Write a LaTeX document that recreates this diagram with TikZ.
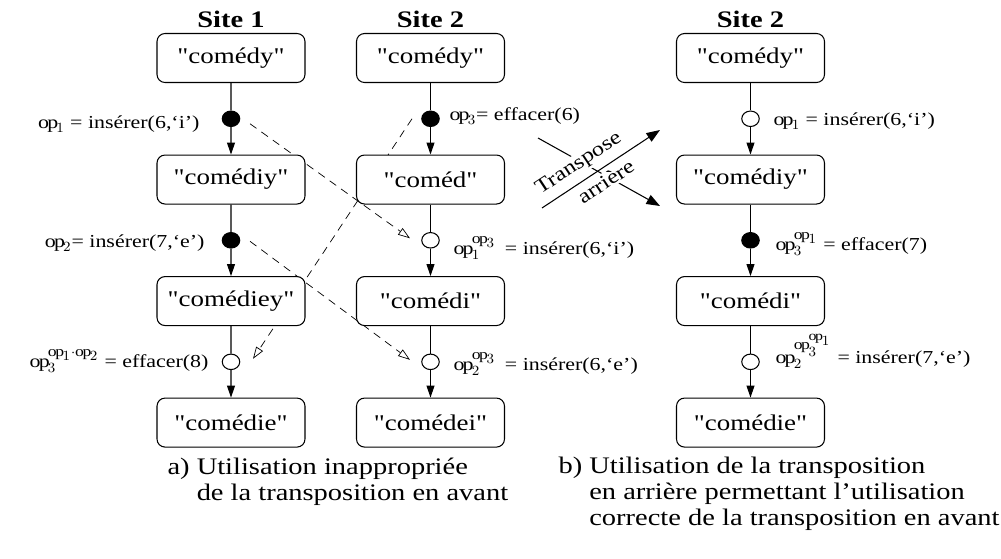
\documentclass[tikz,border=0pt]{standalone}
\usepackage{fontspec}
\setmainfont{Liberation Serif}[FakeStretch=1.2]
\newfontfamily\docfont{Liberation Serif}[FakeStretch=1.2, Ligatures=TeXOff]
\DeclareMathSizes{10.4}{10.4}{8.4}{7.6}
\usetikzlibrary{positioning,shapes.geometric,arrows.meta,backgrounds,calc}
\tikzstyle{doc}=[%
      rectangle, rounded corners=0.16cm, draw=black, fill=white,
      minimum width=2.96cm, minimum height=0.98cm, inner sep=0pt,
      font=\docfont\fontsize{12.8}{15}\selectfont
]
\tikzstyle{gen}=[%
      ellipse, draw=black, fill=black, minimum width=0.35cm, minimum height=0.31cm, inner sep=0pt
]
\tikzstyle{integ}=[gen, fill=white]
\tikzstyle{oplbl}=[inner sep=0pt, font=\fontsize{10.4}{12}\selectfont]
\tikzstyle{trlbl}=[fill=white, inner sep=1pt, sloped, font=\fontsize{11.5}{13}\selectfont]
\tikzstyle{site}=[inner sep=0.1cm, font=\fontsize{13.5}{15}\selectfont\bfseries]
\tikzstyle{capt}=[align=left, inner sep=0pt, font=\fontsize{13.5}{14.8}\selectfont]
\tikzstyle{causal}=[%
      dash pattern=on 0.16cm off 0.12cm, -{Triangle[open,length=0.24cm,width=0.16cm]}
]
\tikzstyle{trans}=[-{Triangle[length=0.27cm,width=0.2cm]}]

\begin{document}
\begin{tikzpicture}[x=0.02cm, y=-0.02cm, line width=0.6pt,
    >={Triangle[length=0.24cm,width=0.16cm]}
  ]
    \useasboundingbox (0,0) rectangle (1001,558);

    % site 1
    \node[doc] (s1a) at (231,58)          {"comédy"};
    \node[doc] (s1b) [below = 1.43cm of s1a] {"comédiy"};
    \node[doc] (s1c) [below = 1.43cm of s1b] {"comédiey"};
    \node[doc] (s1d) [below = 1.43cm of s1c] {"comédie"};
    \node[site] (t1) [above = 0pt of s1a] {Site 1};

    % site 2, case a
    \node[doc] (s2a) at (430.5,58)        {"comédy"};
    \node[doc] (s2b) [below = 1.43cm of s2a] {"coméd"};
    \node[doc] (s2c) [below = 1.43cm of s2b] {"comédi"};
    \node[doc] (s2d) [below = 1.43cm of s2c] {"comédei"};
    \node[site] (t2) [above = 0pt of s2a] {Site 2};

    % site 2, case b
    \node[doc] (s3a) at (750.5,58)        {"comédy"};
    \node[doc] (s3b) [below = 1.43cm of s3a] {"comédiy"};
    \node[doc] (s3c) [below = 1.43cm of s3b] {"comédi"};
    \node[doc] (s3d) [below = 1.43cm of s3c] {"comédie"};
    \node[site] (t3) [above = 0pt of s3a] {Site 2};

    % operations
    \node[gen]   (a1) at ($(s1a)!0.5!(s1b)$) {};
    \node[gen]   (a2) at ($(s1b)!0.5!(s1c)$) {};
    \node[integ] (a3) at ($(s1c)!0.5!(s1d)$) {};
    \node[gen]   (b1) at ($(s2a)!0.5!(s2b)$) {};
    \node[integ] (b2) at ($(s2b)!0.5!(s2c)$) {};
    \node[integ] (b3) at ($(s2c)!0.5!(s2d)$) {};
    \node[integ] (c1) at ($(s3a)!0.5!(s3b)$) {};
    \node[gen]   (c2) at ($(s3b)!0.5!(s3c)$) {};
    \node[integ] (c3) at ($(s3c)!0.5!(s3d)$) {};

    \node[oplbl, anchor=base east] (l1) at (200,128) {$\mathrm{op}_1$ = insérer(6,`i')};
    \node[oplbl, anchor=base east] (l2) at (205,247) {$\mathrm{op}_2$= insérer(7,`e')};
    \node[oplbl, anchor=base east] (l3) at (209,367) {$\mathrm{op}_3^{\mathrm{op}_1\cdot\mathrm{op}_2}$ = effacer(8)};
    \node[oplbl, anchor=base west] (m1) at (449,120) {$\mathrm{op}_3$= effacer(6)};
    \node[oplbl, anchor=base west] (m2) at (453,254) {$\mathrm{op}_1^{\mathrm{op}_3}$\enspace= insérer(6,`i')};
    \node[oplbl, anchor=base west] (m3) at (453,370) {$\mathrm{op}_2^{\mathrm{op}_3}$\enspace= insérer(6,`e')};
    \node[oplbl, anchor=base west] (n1) at (773,125) {$\mathrm{op}_1$ = insérer(6,`i')};
    \node[oplbl, anchor=base west] (n2) at (775,250) {$\mathrm{op}_3^{\mathrm{op}_1}$ = effacer(7)};
    \node[oplbl, anchor=base west] (n3) at (775,363) {$\mathrm{op}_2^{\mathrm{op}_3^{\mathrm{op}_1}}$ = insérer(7,`e')};

    \foreach \col/\op in {s1/a, s2/b, s3/c} {
      \draw (\col a) -- (\op1);
      \draw[->] (\op1) -- (\col b);
      \draw (\col b) -- (\op2);
      \draw[->] (\op2) -- (\col c);
      \draw (\col c) -- (\op3);
      \draw[->] (\op3) -- (\col d);
    }

    % remote operations
    \begin{scope}[on background layer]
      \draw[causal] ([shift={(19,5)}]a1.center) -- ([shift={(-20.5,-2)}]b2.center);
      \draw[causal] ([shift={(19,1)}]a2.center) -- ([shift={(-20.5,-2)}]b3.center);
      \draw[causal] ([shift={(-18.5,0)}]b1.center) -- ([shift={(22,-3)}]a3.center);
    \end{scope}

    % transposition
    \coordinate (tr1s) at (542,208);
    \coordinate (tr1e) at (660,130);
    \coordinate (tr2s) at (538,138);
    \coordinate (tr2e) at (660,206);
    \draw[trans] (tr2s) -- (tr2e);
    \draw[trans] (tr1s) -- node[trlbl, pos=0.39, above=3pt] (trlbl) {Transpose}
                           node[trlbl, pos=0.48, below=2pt] (arlbl) {arrière} (tr1e);

    % captions
    \node[capt, anchor=base west] (capa) at (167,500) {a) Utilisation inappropriée\\\phantom{a)} de la transposition en avant};
    \node[capt, anchor=base west] (capb) at (558,525) {b) Utilisation de la transposition\\\phantom{b)} en arrière permettant l'utilisation\\\phantom{b)} correcte de la transposition en avant};
\end{tikzpicture}
\end{document}
